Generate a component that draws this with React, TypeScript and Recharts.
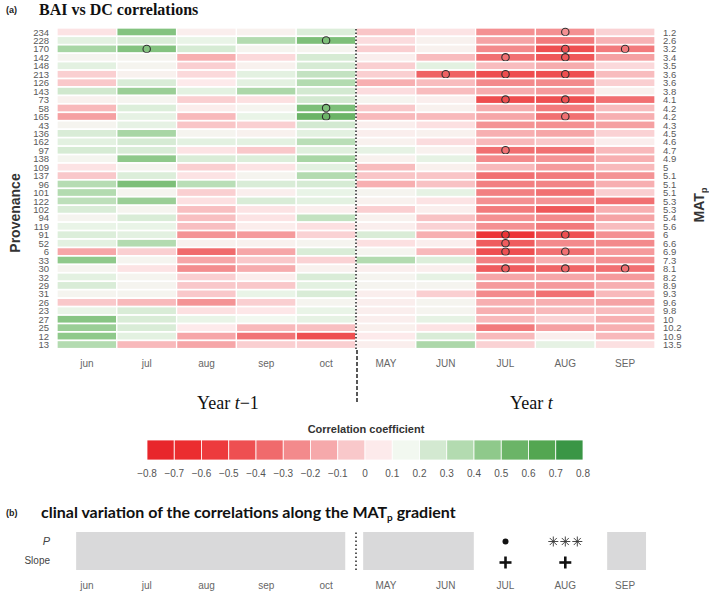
import React from 'react';
import { BarChart, Bar, XAxis, YAxis, ReferenceLine, ReferenceArea, ComposedChart, Scatter } from 'recharts';

// months of the previous year (lower case) and of the current year (upper case)
const months = ['jun', 'jul', 'aug', 'sep', 'oct', 'MAY', 'JUN', 'JUL', 'AUG', 'SEP'];

const provenance = ['234', '228', '170', '142', '148', '213', '126', '143', '73', '58', '165', '43', '136', '162', '97', '138', '109', '137', '96', '101', '122', '102', '94', '119', '91', '52', '6', '33', '30', '32', '29', '31', '26', '23', '27', '25', '12', '13'];
const matp = ['1.2', '2.6', '3.2', '3.4', '3.5', '3.6', '3.6', '3.8', '4.1', '4.2', '4.2', '4.3', '4.5', '4.6', '4.7', '4.9', '5', '5.1', '5.1', '5.1', '5.3', '5.3', '5.4', '5.6', '6', '6.6', '6.9', '7.3', '8.1', '8.2', '8.9', '9.3', '9.6', '9.8', '10', '10.2', '10.9', '13.5'];

// correlation BAI vs DC, one value per provenance (same order as above)
const corJun = [0.03, 0.2, 0.38, 0.12, 0.2, -0.03, -0.05, 0.26, 0.1, -0.1, -0.18, 0.12, 0.23, 0.2, 0.24, 0.13, 0.03, -0.05, 0.34, 0.35, 0.32, 0.23, 0.12, 0.18, 0.22, 0.2, -0.16, 0.45, 0.12, 0.2, 0.23, 0.12, -0.05, 0.18, 0.47, 0.42, 0.45, 0.35];
const corJul = [0.48, 0.23, 0.48, 0.12, 0.12, 0.1, 0.23, 0.42, 0.12, 0.22, 0.19, 0.19, 0.38, 0.24, 0.23, 0.45, 0.12, 0.22, 0.5, 0.12, 0.42, 0.12, 0.23, 0.18, 0.2, 0.35, -0.03, 0.12, 0.03, 0.12, 0.12, 0.12, -0.1, 0.23, 0.23, 0.23, 0.2, -0.1];
const corAug = [0.08, 0.18, 0.24, -0.13, -0.03, 0.0, 0.05, 0.2, -0.03, 0.07, -0.1, -0.06, 0.12, 0.2, 0.03, 0.23, -0.03, 0.03, 0.33, -0.03, 0.02, -0.08, -0.08, -0.08, -0.22, 0.1, -0.35, -0.16, -0.24, -0.03, -0.05, -0.05, -0.22, 0.02, 0.18, 0.05, -0.16, -0.16];
const corSep = [0.1, 0.35, 0.12, 0.0, 0.1, 0.2, 0.2, 0.37, 0.02, 0.12, 0.18, -0.03, 0.1, 0.2, -0.05, 0.22, 0.03, 0.12, 0.23, 0.08, 0.23, 0.03, 0.03, 0.07, -0.2, 0.1, -0.16, -0.05, -0.14, 0.07, -0.05, 0.18, -0.03, 0.04, 0.15, -0.1, -0.32, -0.03];
const corOct = [0.22, 0.5, 0.12, 0.24, 0.24, 0.3, 0.35, 0.25, 0.25, 0.5, 0.55, 0.25, 0.2, 0.33, 0.21, 0.38, 0.2, 0.35, 0.24, 0.18, 0.2, 0.08, 0.3, 0.02, -0.02, 0.12, 0.23, -0.02, 0.1, 0.23, 0.2, 0.23, 0.12, 0.18, 0.19, -0.08, -0.45, -0.03];
const corMAY = [-0.06, 0.01, -0.03, 0.08, -0.03, -0.03, -0.13, 0.01, 0.12, -0.05, -0.1, 0.08, 0.08, 0.1, 0.19, 0.1, -0.09, -0.06, -0.13, 0.12, 0.1, -0.03, 0.1, 0.08, 0.23, 0.02, 0.12, 0.35, 0.08, 0.12, 0.12, 0.08, 0.08, 0.08, 0.08, 0.09, 0.05, 0.08];
const corJUN = [0.03, 0.1, 0.1, -0.09, 0.2, -0.38, -0.09, -0.09, 0.08, 0.1, -0.1, 0.02, 0.1, 0.01, 0.1, 0.19, 0.09, -0.06, -0.07, 0.19, 0.03, 0.08, -0.07, -0.02, -0.13, 0.08, -0.1, 0.22, 0.08, 0.19, 0.12, -0.03, 0.12, 0.12, 0.19, 0.03, 0.23, 0.37];
const corJUL = [-0.23, -0.17, -0.25, -0.33, -0.09, -0.46, -0.25, -0.14, -0.46, -0.14, -0.16, -0.22, -0.13, -0.1, -0.33, -0.25, -0.1, -0.33, -0.28, -0.28, -0.23, -0.3, -0.23, -0.23, -0.6, -0.4, -0.45, -0.28, -0.4, -0.16, -0.2, -0.25, -0.13, -0.13, -0.1, -0.3, -0.1, -0.02];
const corAUG = [-0.23, -0.3, -0.45, -0.42, -0.14, -0.45, -0.25, -0.2, -0.45, -0.3, -0.33, -0.23, -0.16, -0.05, -0.33, -0.22, -0.2, -0.3, -0.27, -0.33, -0.22, -0.42, -0.25, -0.3, -0.45, -0.25, -0.33, -0.13, -0.37, -0.16, -0.2, -0.33, -0.13, -0.1, -0.02, -0.18, 0.08, 0.19];
const corSEP = [-0.02, -0.12, -0.3, -0.18, 0.0, -0.09, -0.03, 0.09, -0.33, -0.09, -0.13, -0.18, -0.02, 0.08, -0.1, -0.13, -0.1, -0.22, -0.13, -0.03, -0.33, -0.13, -0.17, -0.09, -0.23, -0.25, -0.2, -0.23, -0.33, -0.2, -0.13, -0.1, -0.17, -0.09, -0.13, -0.13, -0.1, 0.02];
const corByMonth = [corJun, corJul, corAug, corSep, corOct, corMAY, corJUN, corJUL, corAUG, corSEP];

// significant correlations (circled cells), by provenance
const sigJul = ['170'];
const sigOct = ['228', '58', '165'];
const sigJUN = ['213'];
const sigJUL = ['142', '213', '73', '97', '91', '52', '6', '30'];
const sigAUG = ['234', '170', '142', '213', '73', '165', '91', '6', '30'];
const sigSEP = ['170', '30'];
const sigByMonth = [[], sigJul, [], [], sigOct, [], sigJUN, sigJUL, sigAUG, sigSEP];

// colour key, -0.8 .. 0.8 in steps of 0.1
const legendTicks = [-0.8, -0.7, -0.6, -0.5, -0.4, -0.3, -0.2, -0.1, 0, 0.1, 0.2, 0.3, 0.4, 0.5, 0.6, 0.7, 0.8];
const legendColors = ['#e8262b', '#eb2d2f', '#ed3b3d', '#ee4f51', '#f06a6c', '#f38a8c', '#f6a9ab', '#f9c8ca', '#fdeaeb', '#f2f8f0', '#d3e9d1', '#b3dbb0', '#8fc98b', '#6bb467', '#53a651', '#3a9645'];

// panel (b): clinal slope along MATp
const pMarks = ['', '', '', '', '', '', '', '•', '***', ''];
const slopeMarks = ['', '', '', '', '', '', '', '+', '+', ''];
const greyGroups = [[0, 4], [5, 6], [9, 9]];
const greyInset = [[0.32, 0.18], [0.12, 0.03], [0.2, 0.15]];

const FONT = "'Liberation Sans', Arial, sans-serif";
const SERIF = "'Liberation Serif', 'Times New Roman', serif";
const monthTicks = months.map((_, i) => i + 0.5);

const hex = (h: string) => [1, 3, 5].map((k) => parseInt(h.slice(k, k + 2), 16));
function colorOf(v: number) {
  const p = (v + 0.75) / 0.1;
  const i = Math.max(0, Math.min(legendColors.length - 2, Math.floor(p)));
  const t = Math.max(0, Math.min(1, p - i));
  const a = hex(legendColors[i]);
  const b = hex(legendColors[i + 1]);
  const c = a.map((x, k) => Math.round(x + (b[k] - x) * t));
  return `rgb(${c[0]},${c[1]},${c[2]})`;
}

const rows = provenance.map((prov, r) => {
  const row: any = { prov };
  months.forEach((_, c) => {
    row[`c${c}`] = 1;
    row[`v${c}`] = corByMonth[c][r];
    row[`s${c}`] = sigByMonth[c].includes(prov);
  });
  return row;
});

const makeCell = (c: number) => (props: any) => {
  const { x, y, width, height, index } = props;
  const row = props.payload && props.payload.prov ? props.payload : rows[index];
  return (
    <g>
      <rect x={x} y={y} width={width} height={height} fill={colorOf(row[`v${c}`])} stroke="#fff" strokeWidth={1.3} />
      {row[`s${c}`] && (
        <circle cx={x + width / 2} cy={y + height / 2} r={3.7} fill="none" stroke="#2e2e2e" strokeWidth={1.1} />
      )}
    </g>
  );
};

const marks = months
  .flatMap((_, c) => [
    pMarks[c] ? { x: c + 0.5, y: 1.5, t: pMarks[c] } : null,
    slopeMarks[c] ? { x: c + 0.5, y: 0.5, t: slopeMarks[c] } : null,
  ])
  .filter(Boolean);

const MarkShape = (props: any) => {
  const { cx, cy, payload } = props;
  if (payload.t === '•') return <circle cx={cx} cy={cy} r={3} fill="#111" />;
  if (payload.t === '+')
    return (
      <g stroke="#111" strokeWidth={2.6}>
        <line x1={cx - 6} x2={cx + 6} y1={cy + 2} y2={cy + 2} />
        <line x1={cx} x2={cx} y1={cy - 4} y2={cy + 8} />
      </g>
    );
  // three thin asterisks
  return (
    <g stroke="#333" strokeWidth={0.9}>
      {[-12, 0, 12].map((dx) =>
        [0, 45, 90, 135].map((a) => {
          const r = 5;
          const rad = (a * Math.PI) / 180;
          return (
            <line key={`${dx}-${a}`} x1={cx + dx - r * Math.cos(rad)} y1={cy - r * Math.sin(rad)} x2={cx + dx + r * Math.cos(rad)} y2={cy + r * Math.sin(rad)} />
          );
        })
      )}
    </g>
  );
};

const tickStyle = { fontSize: 10, fill: '#666', fontFamily: FONT };
const rowTickStyle = { fontSize: 9.5, fill: '#5a5a5a', fontFamily: FONT };

const RowTick = (props: any) => {
  const { x, y, payload } = props;
  const isP = payload.value > 1;
  return (
    <text x={x} y={y} dy={3.5} textAnchor="end" fontSize={isP ? 11 : 10} fontStyle={isP ? 'italic' : 'normal'} fill="#444" fontFamily={FONT}>
      {isP ? 'P' : 'Slope'}
    </text>
  );
};

const Legend = () => {
  const x0 = 147;
  const w = 27.25;
  return (
    <g>
      <text x={366} y={433} textAnchor="middle" fontSize={11} fontWeight="bold" fill="#333" fontFamily={FONT}>
        Correlation coefficient
      </text>
      {legendColors.map((c, i) => (
        <rect key={c + i} x={x0 + i * w} y={440} width={w} height={20} fill={c} stroke="#fff" strokeWidth={0.8} />
      ))}
      {legendTicks.map((t, i) => (
        <text key={t} x={x0 + i * w} y={477} textAnchor="middle" fontSize={10} fill="#555" fontFamily={FONT}>
          {t < 0 ? `\u2212${Math.abs(t).toFixed(1)}` : t === 0 ? '0' : t.toFixed(1)}
        </text>
      ))}
    </g>
  );
};

export default function App() {
  return (
    <div style={{ position: 'absolute', left: 0, top: 0, width: 709, height: 591, overflow: 'hidden', background: '#fff', fontFamily: FONT }}>
      <div style={{ position: 'absolute', left: 0, top: 0 }}>
        <BarChart width={709} height={380} data={rows} layout="vertical" barCategoryGap={0} margin={{ top: 28, right: 4, bottom: 5, left: 7 }}>
          <XAxis type="number" domain={[0, 10]} ticks={monthTicks} interval={0} tickFormatter={(v: number) => months[Math.floor(v)]} axisLine={false} tickLine={false} tickSize={0} tickMargin={11} height={26} tick={tickStyle} />
          <YAxis yAxisId="l" type="category" dataKey="prov" width={50} interval={0} axisLine={false} tickLine={false} tickSize={0} tickMargin={8} tick={rowTickStyle} />
          <YAxis yAxisId="r" orientation="right" type="category" dataKey="prov" width={50} interval={0} axisLine={false} tickLine={false} tickSize={0} tickMargin={8} tickFormatter={(v: string) => matp[provenance.indexOf(v)]} tick={{ ...rowTickStyle, textAnchor: 'start' }} />
          {months.map((m, c) => (
            <Bar key={m} yAxisId="l" dataKey={`c${c}`} stackId="a" isAnimationActive={false} shape={makeCell(c)} />
          ))}
          <ReferenceLine yAxisId="l" x={5} stroke="#222" strokeWidth={1.5} strokeDasharray="1.5 2" />
        </BarChart>
      </div>

      <div style={{ position: 'absolute', left: 0, top: 520 }}>
        <ComposedChart width={709} height={71} data={marks as any[]} margin={{ top: 12, right: 54, bottom: 0, left: 7 }}>
          <XAxis type="number" dataKey="x" domain={[0, 10]} ticks={monthTicks} interval={0} tickFormatter={(v: number) => months[Math.floor(v)]} axisLine={false} tickLine={false} tickSize={0} tickMargin={12} height={21} tick={tickStyle} />
          <YAxis type="number" dataKey="y" domain={[0, 2]} ticks={[0.5, 1.5]} interval={0} width={50} axisLine={false} tickLine={false} tickSize={0} tickMargin={7} tick={<RowTick />} />
          {greyGroups.map(([a, b], k) => (
            <ReferenceArea key={k} x1={a + greyInset[k][0]} x2={b + 1 - greyInset[k][1]} y1={0} y2={2} fill="#d9d9da" fillOpacity={1} stroke="none" />
          ))}
          <ReferenceLine x={5} stroke="#222" strokeWidth={1.5} strokeDasharray="1.5 2.5" />
          <Scatter data={marks as any[]} shape={<MarkShape />} isAnimationActive={false} />
        </ComposedChart>
      </div>

      <svg width={709} height={591} style={{ position: 'absolute', left: 0, top: 0, pointerEvents: 'none' }}>
        <text x={6} y={13} fontSize={9} fontWeight="bold" fill="#222" fontFamily={FONT}>(a)</text>
        <text x={39} y={14.5} fontSize={16} fontWeight="bold" fill="#111" fontFamily={SERIF}>BAI vs DC correlations</text>
        <text transform="translate(20,213) rotate(-90)" textAnchor="middle" fontSize={14} fontWeight="bold" fill="#333" fontFamily={FONT}>Provenance</text>
        <text transform="translate(704,205) rotate(-90)" textAnchor="middle" fontSize={14} fontWeight="bold" fill="#333" fontFamily={FONT}>
          MAT<tspan fontSize={9} dy={3}>p</tspan>
        </text>
        <line x1={357} x2={357} y1={350} y2={403} stroke="#222" strokeWidth={1.5} strokeDasharray="4 2" />
        <text x={197} y={409} fontSize={18} fill="#111" fontFamily={SERIF}>
          Year <tspan fontStyle="italic">t</tspan>{'\u22121'}
        </text>
        <text x={510} y={409} fontSize={18} fill="#111" fontFamily={SERIF}>
          Year <tspan fontStyle="italic">t</tspan>
        </text>
        <Legend />
        <text x={6} y={516} fontSize={9} fontWeight="bold" fill="#222" fontFamily={FONT}>(b)</text>
        <text x={41} y={518} fontSize={16} fontWeight="bold" fill="#111" fontFamily="Lato, 'Open Sans', sans-serif">
          clinal variation of the correlations along the MAT<tspan fontSize={10} dy={3}>p</tspan>
          <tspan dy={-3}> gradient</tspan>
        </text>
      </svg>
    </div>
  );
}
